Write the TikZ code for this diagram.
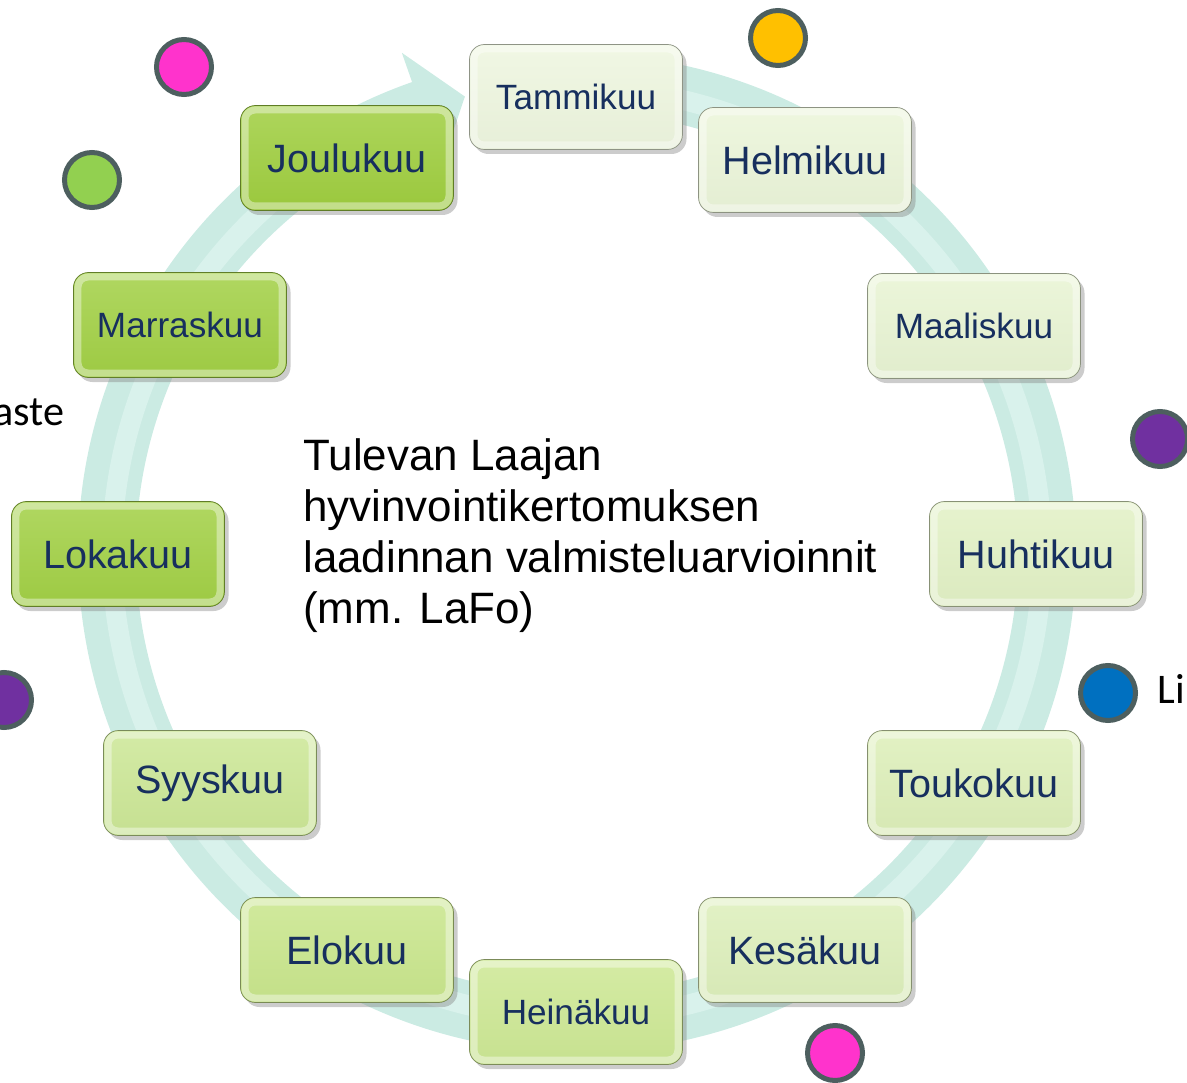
\documentclass[tikz,border=0pt]{standalone}
\usepackage{fontspec}
\setmainfont{Liberation Sans}
\newfontfamily\carlito{Carlito}
\usepackage{xcolor}
\usetikzlibrary{calc,shadows}

\definecolor{rengas}{HTML}{CBEBE3}
\definecolor{rengasvalo}{HTML}{D9F2EC}
\definecolor{teksti}{HTML}{172F5E}
\definecolor{reuna}{HTML}{4D5F5F}
\definecolor{kuu1}{HTML}{EEF6DF}
\definecolor{kuu2}{HTML}{EBF5D9}
\definecolor{kuu3}{HTML}{E8F4D3}
\definecolor{kuu4}{HTML}{E2F1C5}
\definecolor{kuu5}{HTML}{DDEFB9}
\definecolor{kuu6}{HTML}{DDEFBB}
\definecolor{kuu7}{HTML}{CDE894}
\definecolor{kuu8}{HTML}{C9E68C}
\definecolor{kuu9}{HTML}{CCE796}
\definecolor{kuu10}{HTML}{A2D045}
\definecolor{kuu11}{HTML}{A2D045}
\definecolor{kuu12}{HTML}{9FCE3F}
\definecolor{pinkki}{HTML}{FF33CC}
\definecolor{oranssi}{HTML}{FFC000}
\definecolor{vihrea}{HTML}{92D050}
\definecolor{violetti}{HTML}{7030A0}
\definecolor{sininen}{HTML}{0070C0}

\tikzset{
  laatikko/.style={rectangle,rounded corners=3mm,minimum width=42.6mm,minimum height=21mm,
    top color=#1!85!white,bottom color=#1!97!black,draw=#1!60!black,line width=0.4pt,
    drop shadow={shadow xshift=0.8mm,shadow yshift=-0.9mm,opacity=0.4},
    path picture={\draw[white,opacity=0.4,line width=1.4mm,rounded corners=2mm]
      ([shift={(0.9mm,-0.9mm)}]path picture bounding box.north west) rectangle
      ([shift={(-0.9mm,0.9mm)}]path picture bounding box.south east);},
    text=teksti,font=\fontsize{20}{24}\selectfont},
  iso/.style={font=\fontsize{22.5}{27}\selectfont},
  pallo/.style={circle,minimum size=11mm,inner sep=0pt,draw=reuna,line width=1mm,fill=#1},
}

\begin{document}
\begin{tikzpicture}[x=0.2mm,y=-0.2mm]
\useasboundingbox (0,0) rectangle (1187,1083);
\clip (0,0) rectangle (1187,1083);

% kehä ja nuoli
\coordinate (k) at (577,553);
\fill[rengas] ($(k)+(97:99.8mm)$) arc[start angle=97,end angle=-250.7,radius=99.8mm]
  -- ($(k)+(109.3:106mm)$) -- ($(k)+(103.8:94mm)$) -- ($(k)+(109.3:82mm)$)
  -- ($(k)+(109.3:88.2mm)$) arc[start angle=-250.7,end angle=97,radius=88.2mm] -- cycle;
\draw[rengasvalo,line width=4mm] ($(k)+(97:93mm)$) arc[start angle=97,end angle=-248,radius=93mm];

% kuukaudet
\node (1) at ( 576,  97) [laatikko=kuu1] {Tammikuu};
\node (2) at ( 805, 160) [laatikko=kuu2,iso] {Helmikuu};
\node (3) at ( 974, 326) [laatikko=kuu3] {Maaliskuu};
\node (4) at (1036, 554) [laatikko=kuu4,iso] {Huhtikuu};
\node (5) at ( 974, 783) [laatikko=kuu5,iso] {Toukokuu};
\node (6) at ( 805, 950) [laatikko=kuu6,iso] {Kesäkuu};
\node (7) at ( 576,1012) [laatikko=kuu7] {Heinäkuu};
\node (8) at ( 347, 950) [laatikko=kuu8,iso] {Elokuu};
\node (9) at ( 210, 783) [laatikko=kuu9,iso] {Syyskuu};
\node (10) at ( 118, 554) [laatikko=kuu10,iso] {Lokakuu};
\node (11) at ( 180, 325) [laatikko=kuu11] {Marraskuu};
\node (12) at ( 347, 158) [laatikko=kuu12,iso] {Joulukuu};

% keskiteksti
\node (keski) at (303,536) [anchor=west,align=left,inner sep=0pt,font=\fontsize{25}{29}\selectfont]
  {Tulevan Laajan\\hyvinvointikertomuksen\\laadinnan valmisteluarvioinnit\\(mm. LaFo)};

% pallot
\node (p1) at ( 184,  67) [pallo=pinkki] {};
\node (p2) at ( 778,  38) [pallo=oranssi] {};
\node (p3) at (  92, 180) [pallo=vihrea] {};
\node (p4) at (1160, 439) [pallo=violetti] {};
\node (p5) at (   4, 700) [pallo=violetti] {};
\node (p6) at (1108, 693) [pallo=sininen] {};
\node (p7) at ( 835,1053) [pallo=pinkki] {};

% reunatekstit
\node (aste) at (65,425) [anchor=base east,inner sep=0pt,font=\carlito\fontsize{24}{28}\selectfont] {aste};
\node (li) at (1157,703) [anchor=base west,inner sep=0pt,font=\carlito\fontsize{24}{28}\selectfont] {Li};
\end{tikzpicture}
\end{document}
